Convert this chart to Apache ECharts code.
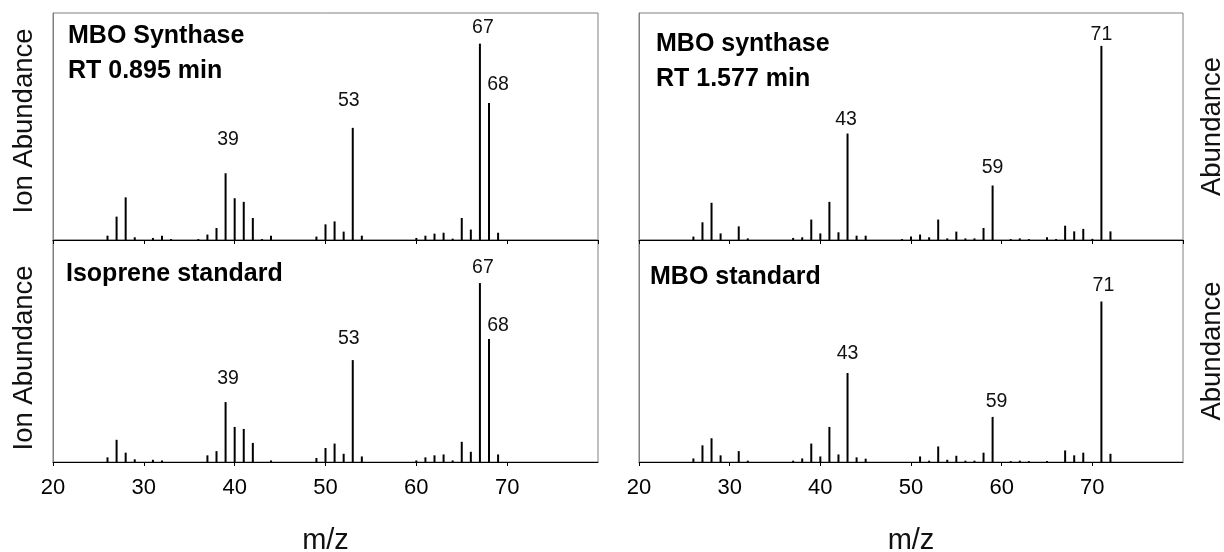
<!DOCTYPE html>
<html>
<head>
<meta charset="utf-8">
<script src="https://cdn.jsdelivr.net/npm/echarts@6/dist/echarts.min.js"></script>
<style>
html,body{margin:0;padding:0;background:#fff;}
#chart{width:1224px;height:552px;}
</style>
</head>
<body>
<div id="chart"></div>
<script>
// ---------- DATA ----------
const xTickLabels = ['20', '30', '40', '50', '60', '70'];

// Panel A: MBO Synthase, RT 0.895 min
const mzA = [26,27,28,29,31,32,33,36,37,38,39,40,41,42,43,44,49,50,51,52,53,54,60,61,62,63,64,65,66,67,68,69];
const abA = [1.9,10.3,18.8,1.2,0.9,1.9,0.4,0.4,2.4,5.3,29.4,18.4,16.8,9.7,0.4,1.9,1.5,6.9,8.2,3.7,49.4,1.9,0.9,1.9,2.8,3.2,0.6,9.7,4.6,86.5,60.3,3.2];
const peaksA = [39, 53, 67, 68];

// Panel B: Isoprene standard
const mzB = [26,27,28,29,31,32,37,38,39,40,41,42,44,49,50,51,52,53,54,60,61,62,63,64,65,66,67,68,69];
const abB = [2.1,10.0,4.2,1.2,1.0,0.7,3.0,4.9,27.0,15.8,14.9,8.6,0.7,1.8,6.3,8.3,3.7,45.9,2.5,0.7,2.1,3.0,3.4,0.7,9.1,4.6,80.6,55.4,3.4];
const peaksB = [39, 53, 67, 68];

// Panel C: MBO synthase, RT 1.577 min
const mzC = [26,27,28,29,31,32,37,38,39,40,41,42,43,44,45,49,50,51,52,53,54,55,56,57,58,59,61,62,63,65,66,67,68,69,70,71,72];
const abC = [1.5,7.8,16.4,2.9,6.0,0.7,0.9,1.2,9.0,2.9,16.8,3.4,46.9,1.9,1.9,0.4,1.5,2.4,1.2,9.0,0.7,3.7,0.7,0.7,5.3,24.0,0.4,0.7,0.4,1.2,0.4,6.3,3.8,4.9,0.5,85.5,3.8];
const peaksC = [43, 59, 71];

// Panel D: MBO standard
const mzD = [26,27,28,29,31,32,37,38,39,40,41,42,43,44,45,51,52,53,54,55,56,57,58,59,61,62,63,65,67,68,69,71,72];
const abD = [1.6,7.5,10.7,3.0,4.9,0.6,0.6,1.6,8.3,2.5,15.8,3.4,40.1,2.1,1.5,2.5,0.6,7.0,1.0,2.8,0.6,0.6,4.2,20.3,0.4,0.6,0.4,0.4,5.2,3.0,4.2,72.3,3.7];
const peaksD = [43, 59, 71];

const titles = [
  ['MBO Synthase', 'RT 0.895 min'],
  ['Isoprene standard'],
  ['MBO synthase', 'RT 1.577 min'],
  ['MBO standard']
];

// ---------- STYLE (label placement: [dx px, distance px]) ----------
const labelStyle = [
  {39: [2.5, 24], 53: [-4, 17], 67: [3, 6], 68: [9, 8]},
  {39: [2.5, 13], 53: [-4, 11], 67: [3, 5], 68: [9, 3]},
  {43: [-1.5, 4], 59: [0, 8], 71: [0, 1]},
  {43: [0, 9], 59: [4, 5], 71: [2, 6]}
];

const FONT = "'Liberation Sans', Arial, sans-serif";
const grids = [
  {left: 53, top: 13, width: 545, height: 227},
  {left: 53, top: 240, width: 545, height: 222},
  {left: 639, top: 13, width: 544, height: 227},
  {left: 639, top: 240, width: 544, height: 222}
];
const panels = [[mzA, abA, peaksA], [mzB, abB, peaksB], [mzC, abC, peaksC], [mzD, abD, peaksD]];

const option = {
  animation: false,
  backgroundColor: '#fff',
  grid: grids.map(g => Object.assign({show: true, borderColor: '#808080', borderWidth: 1, backgroundColor: 'transparent'}, g)),
  xAxis: grids.map((g, i) => ({
    gridIndex: i, type: 'value', min: 20, max: 80, interval: 10,
    axisLine: {show: true, onZero: false, lineStyle: {color: '#000', width: 1}},
    axisTick: {show: true, inside: false, length: 4, lineStyle: {color: '#000'}},
    splitLine: {show: false},
    axisLabel: {
      show: i === 1 || i === 3, margin: 15, fontSize: 22, color: '#000', fontFamily: FONT,
      showMaxLabel: false,
      formatter: v => { const k = xTickLabels.indexOf(String(v)); return k >= 0 ? xTickLabels[k] : ''; }
    }
  })),
  yAxis: grids.map((g, i) => ({
    gridIndex: i, type: 'value', min: 0, max: 100,
    axisLine: {show: true, lineStyle: {color: '#808080'}},
    axisTick: {show: false}, axisLabel: {show: false}, splitLine: {show: false}
  })),
  series: panels.map((p, i) => ({
    type: 'bar', xAxisIndex: i, yAxisIndex: i, barWidth: 2,
    itemStyle: {color: '#000'},
    data: p[0].map((mz, k) => {
      const item = {value: [mz, p[1][k]]};
      if (p[2].indexOf(mz) >= 0) {
        const s = labelStyle[i][mz] || [0, 5];
        item.label = {
          show: true, position: 'top', formatter: String(mz), distance: s[1], offset: [s[0], 0],
          fontSize: 19.5, color: '#111', fontFamily: FONT
        };
      }
      return item;
    })
  })),
  graphic: []
};

// Panel titles
const titlePos = [[68, 36.5], [66, 274], [656, 44], [650, 277]];
titles.forEach((lines, i) => {
  lines.forEach((t, j) => {
    option.graphic.push({
      type: 'text', x: titlePos[i][0], y: titlePos[i][1] + j * 35,
      style: {text: t, font: "bold 25px " + FONT, fill: '#000', align: 'left', verticalAlign: 'middle'}
    });
  });
});
// Axis titles
[[24, 121, 'Ion Abundance'], [24, 358, 'Ion Abundance'], [1212, 126.5, 'Abundance'], [1212, 351, 'Abundance']].forEach(a => {
  option.graphic.push({
    type: 'text', x: a[0], y: a[1], rotation: Math.PI / 2,
    style: {text: a[2], font: "27.5px " + FONT, fill: '#111', align: 'center', verticalAlign: 'middle'}
  });
});
[325.5, 911].forEach(x => {
  option.graphic.push({
    type: 'text', x: x, y: 541,
    style: {text: 'm/z', font: "29px " + FONT, fill: '#111', align: 'center', verticalAlign: 'middle'}
  });
});

const chart = echarts.init(document.getElementById('chart'), null, {renderer: 'canvas'});
chart.setOption(option);
</script>
</body>
</html>
